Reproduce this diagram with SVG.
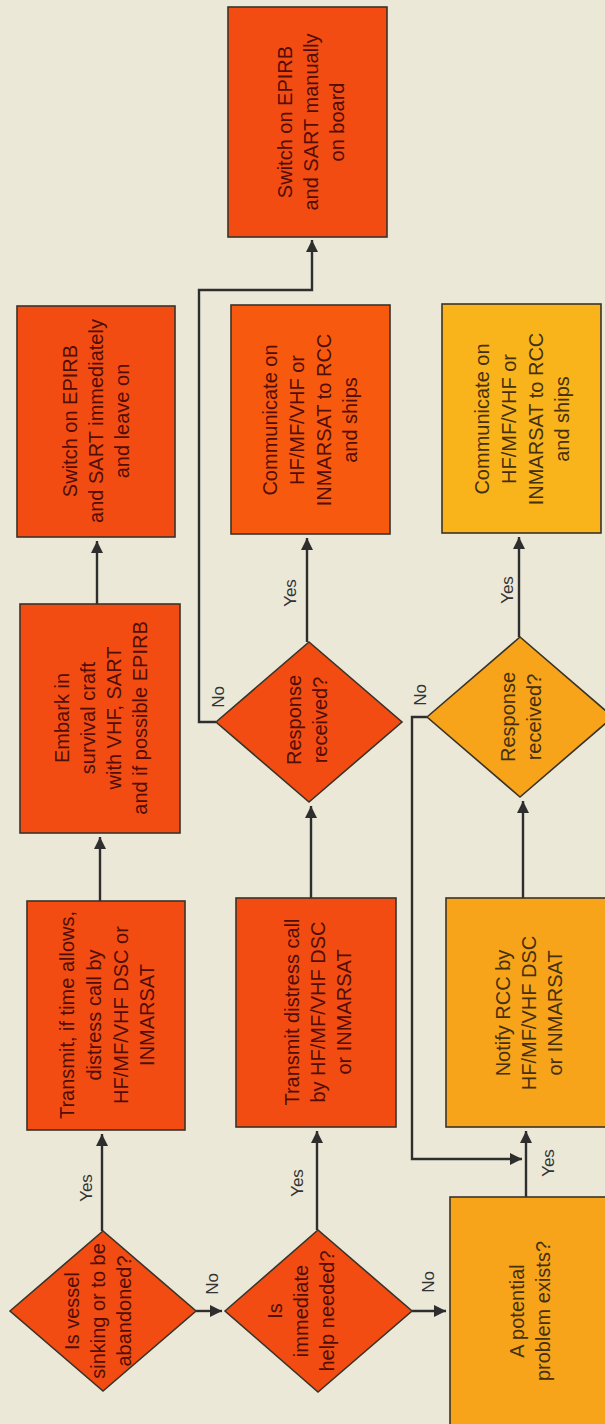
<svg xmlns="http://www.w3.org/2000/svg" width="605" height="1424" viewBox="0 0 605 1424">
<style>
.bg{fill:#ECE8D8}
.red{fill:#F24C12;stroke:#3a3328;stroke-width:1.6}
.redb{fill:#F75A0E;stroke:#3a3328;stroke-width:1.6}
.org{fill:#F7A41A;stroke:#3a3328;stroke-width:1.6}
.yel{fill:#F9B41C;stroke:#3a3328;stroke-width:1.6}
.t{font-family:"Liberation Sans",Arial,sans-serif;font-size:20px;text-anchor:middle}
.tr{fill:#500e06}
.ty{fill:#45300e}
.lbl{font-family:"Liberation Sans",Arial,sans-serif;font-size:17px;fill:#333;text-anchor:middle}
.c{fill:none;stroke:#2e2e2e;stroke-width:2.4}
</style>
<defs>
<marker id="ah" markerUnits="userSpaceOnUse" markerWidth="14" markerHeight="14" refX="12" refY="6" orient="auto">
<path d="M0,0 L12,6 L0,12 z" fill="#2e2e2e"/>
</marker>
</defs>
<rect class="bg" x="0" y="0" width="605" height="1424"/>

<g id="connectors">
<path class="c" d="M102,1231 V1134" marker-end="url(#ah)"/>
<path class="c" d="M100,901 V837" marker-end="url(#ah)"/>
<path class="c" d="M97,604 V541" marker-end="url(#ah)"/>
<path class="c" d="M196,1311 H222" marker-end="url(#ah)"/>
<path class="c" d="M317,1230 V1131" marker-end="url(#ah)"/>
<path class="c" d="M311,898 V806" marker-end="url(#ah)"/>
<path class="c" d="M307,642 V538" marker-end="url(#ah)"/>
<path class="c" d="M216,722 H199 V290 H312 V240" marker-end="url(#ah)"/>
<path class="c" d="M412,1311 H446" marker-end="url(#ah)"/>
<path class="c" d="M526,1197 V1131" marker-end="url(#ah)"/>
<path class="c" d="M427,717 H412 V1159 H522" marker-end="url(#ah)"/>
<path class="c" d="M523,898 V801" marker-end="url(#ah)"/>
<path class="c" d="M519,637 V537" marker-end="url(#ah)"/>
<text class="lbl" transform="translate(86,1188) rotate(-90)" dy="6">Yes</text>
<text class="lbl" transform="translate(297,1183) rotate(-90)" dy="6">Yes</text>
<text class="lbl" transform="translate(290,593) rotate(-90)" dy="6">Yes</text>
<text class="lbl" transform="translate(507,590) rotate(-90)" dy="6">Yes</text>
<text class="lbl" transform="translate(548,1163) rotate(-90)" dy="6">Yes</text>
<text class="lbl" transform="translate(212,1284) rotate(-90)" dy="6">No</text>
<text class="lbl" transform="translate(428,1282) rotate(-90)" dy="6">No</text>
<text class="lbl" transform="translate(218,697) rotate(-90)" dy="6">No</text>
<text class="lbl" transform="translate(420,695) rotate(-90)" dy="6">No</text>
</g>

<g id="d1">
<polygon class="red" points="10,1311 103,1231 196,1311 103,1391"/>
<text class="t tr" transform="translate(98,1311) rotate(-90)"><tspan x="0" y="-19">Is vessel</tspan><tspan x="0" y="7">sinking or to be</tspan><tspan x="0" y="33">abandoned?</tspan></text>
</g>

<g id="b-transmit-time">
<rect class="red" x="27" y="901" width="158" height="229"/>
<text class="t tr" transform="translate(107,1015) rotate(-90)"><tspan x="0" y="-33">Transmit, if time allows,</tspan><tspan x="0" y="-6">distress call by</tspan><tspan x="0" y="21">HF/MF/VHF DSC or</tspan><tspan x="0" y="47">INMARSAT</tspan></text>
</g>

<g id="b-embark">
<rect class="red" x="20" y="604" width="160" height="229"/>
<text class="t tr" transform="translate(101,718) rotate(-90)"><tspan x="0" y="-32">Embark in</tspan><tspan x="0" y="-6">survival craft</tspan><tspan x="0" y="20">with VHF, SART</tspan><tspan x="0" y="46">and if possible EPIRB</tspan></text>
</g>

<g id="b-switch-imm">
<rect class="red" x="17" y="306" width="158" height="231"/>
<text class="t tr" transform="translate(96,421) rotate(-90)"><tspan x="0" y="-19">Switch on EPIRB</tspan><tspan x="0" y="7">and SART immediately</tspan><tspan x="0" y="33">and leave on</tspan></text>
</g>

<g id="d2">
<polygon class="red" points="225,1311 318,1230 412,1311 318,1392"/>
<text class="t tr" transform="translate(301,1311) rotate(-90)"><tspan x="0" y="-19">Is</tspan><tspan x="0" y="7">immediate</tspan><tspan x="0" y="33">help needed?</tspan></text>
</g>

<g id="b-transmit-distress">
<rect class="red" x="236" y="898" width="160" height="229"/>
<text class="t tr" transform="translate(318,1012) rotate(-90)"><tspan x="0" y="-19">Transmit distress call</tspan><tspan x="0" y="7">by HF/MF/VHF DSC</tspan><tspan x="0" y="33">or INMARSAT</tspan></text>
</g>

<g id="d3">
<polygon class="red" points="216,722 309,642 402,722 309,802"/>
<text class="t tr" transform="translate(307,720) rotate(-90)"><tspan x="0" y="-6">Response</tspan><tspan x="0" y="20">received?</tspan></text>
</g>

<g id="b-communicate-red">
<rect class="redb" x="231" y="305" width="159" height="229"/>
<text class="t tr" transform="translate(310,420) rotate(-90)"><tspan x="0" y="-33">Communicate on</tspan><tspan x="0" y="-6">HF/MF/VHF or</tspan><tspan x="0" y="21">INMARSAT to RCC</tspan><tspan x="0" y="47">and ships</tspan></text>
</g>

<g id="b-switch-manual">
<rect class="red" x="228" y="7" width="159" height="230"/>
<text class="t tr" transform="translate(311,122) rotate(-90)"><tspan x="0" y="-19">Switch on EPIRB</tspan><tspan x="0" y="7">and SART manually</tspan><tspan x="0" y="33">on board</tspan></text>
</g>

<g id="b-potential">
<rect class="org" x="450" y="1197" width="200" height="260"/>
<text class="t ty" transform="translate(530,1311) rotate(-90)"><tspan x="0" y="-6">A potential</tspan><tspan x="0" y="20">problem exists?</tspan></text>
</g>

<g id="b-notify">
<rect class="org" x="446" y="898" width="200" height="229"/>
<text class="t ty" transform="translate(529,1013) rotate(-90)"><tspan x="0" y="-19">Notify RCC by</tspan><tspan x="0" y="7">HF/MF/VHF DSC</tspan><tspan x="0" y="33">or INMARSAT</tspan></text>
</g>

<g id="d4">
<polygon class="org" points="427,717 520,637 613,717 520,797"/>
<text class="t ty" transform="translate(521,717) rotate(-90)"><tspan x="0" y="-6">Response</tspan><tspan x="0" y="20">received?</tspan></text>
</g>

<g id="b-communicate-yellow">
<rect class="yel" x="442" y="304" width="159" height="229"/>
<text class="t ty" transform="translate(522,419) rotate(-90)"><tspan x="0" y="-33">Communicate on</tspan><tspan x="0" y="-6">HF/MF/VHF or</tspan><tspan x="0" y="21">INMARSAT to RCC</tspan><tspan x="0" y="47">and ships</tspan></text>
</g>
</svg>
